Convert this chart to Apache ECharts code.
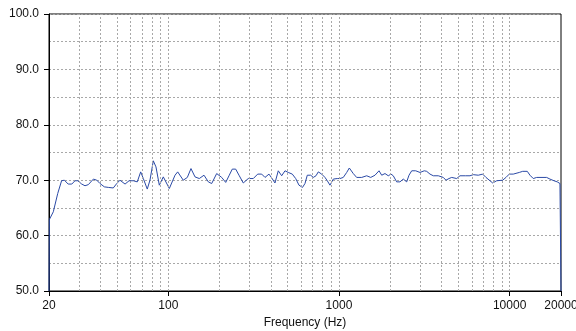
<!DOCTYPE html>
<html>
<head>
<meta charset="utf-8">
<script src="https://cdn.jsdelivr.net/npm/echarts@6/dist/echarts.min.js"></script>
<style>
  html, body { margin: 0; padding: 0; background: #fff; }
  #chart { width: 576px; height: 331px; }
</style>
</head>
<body>
<div id="chart"></div>
<script>
// frequency (Hz) and level (dB)
var freqs = [20, 20.1, 21.2, 22.5, 23.7, 24.6, 25.9, 27.2, 28.4, 29.5, 31.1, 32.5, 34.0, 36.4, 38.1, 39.8,
  42.2, 44.5, 47.6, 49.9, 52.1, 55.8, 58.9, 62.4, 63.8, 65.8, 68.9, 71.4, 75.3, 78.1, 81.7, 84.7, 88.6,
  93.5, 96.0, 101.4, 104.1, 109.5, 113.5, 122.4, 129.3, 135.8, 143.4, 151.9, 161.9, 171.6, 179.6, 192.1,
  205.6, 217.0, 226.8, 237.1, 248.3, 259.6, 275.0, 294.2, 314.8, 334.1, 352.6, 368.7, 389.0, 403.5, 421.8,
  441.0, 461.7, 482.8, 504.8, 532.8, 557.8, 583.2, 611.4, 632.3, 652.3, 682.9, 707.3, 733.5, 756.7, 792.2,
  828.3, 854.4, 886.1, 926.4, 977.7, 1014, 1060, 1110, 1150, 1213, 1270, 1359, 1454, 1535, 1626, 1717,
  1780, 1861, 1945, 2018, 2081, 2179, 2278, 2382, 2494, 2573, 2669, 2816, 2984, 3162, 3266, 3415, 3571,
  3820, 4087, 4238, 4413, 4577, 4896, 5119, 5527, 5857, 6123, 6552, 6952, 7269, 7673, 7958, 8400, 9107,
  9520, 9954, 10505, 11393, 11928, 12688, 13158, 13758, 14403, 16482, 17234, 18190, 19017, 19723, 19900, 20000];
var levels = [50, 62.9, 64.3, 67.6, 69.9, 70.0, 69.3, 69.3, 69.9, 69.9, 69.3, 69.0, 69.2, 70.2, 70.0, 69.4,
  68.8, 68.7, 68.6, 69.4, 70.0, 69.3, 69.9, 69.9, 69.6, 69.7, 71.5, 70.3, 68.4, 70.0, 73.5, 72.4, 69.1,
  70.6, 70.5, 68.5, 68.6, 70.9, 71.5, 70.0, 70.5, 72.1, 70.6, 70.3, 70.9, 69.7, 69.4, 71.2,
  70.5, 69.6, 70.8, 72.0, 72.0, 70.9, 69.5, 70.3, 70.3, 71.1, 71.1, 70.5, 71.1, 70.4, 69.5,
  71.7, 70.8, 71.7, 71.4, 71.1, 70.3, 69.1, 68.7, 69.4, 70.9, 70.9, 70.5, 70.8, 71.5, 71.1,
  70.5, 69.9, 69.1, 70.2, 70.3, 70.3, 70.5, 71.4, 72.2, 71.2, 70.5, 70.5, 70.8, 70.5, 70.9, 71.7,
  70.9, 71.2, 70.8, 71.1, 70.8, 69.7, 69.7, 70.2, 69.7, 70.9, 71.7, 71.7, 71.4, 71.7, 71.6, 71.1, 70.8,
  70.8, 70.5, 70.0, 70.3, 70.5, 70.3, 70.8, 70.8, 70.8, 71.0, 70.9, 71.1, 70.5, 69.9, 69.5, 69.9, 70.0,
  70.5, 71.1, 71.1, 71.4, 71.6, 71.6, 70.9, 70.3, 70.5, 70.5, 70.2, 69.9, 69.7, 69.4, 69.3, 50];

// vertical grid lines (1..9 per decade)
var gridFreqs = [30, 40, 50, 60, 70, 80, 90, 100, 200, 300, 400, 500, 600, 700, 800, 900,
  1000, 2000, 3000, 4000, 5000, 6000, 7000, 8000, 9000, 10000];

var dotted = { color: '#a8a8a8', width: 1, type: [2, 2] };
var labelFont = { color: '#111', fontFamily: 'Liberation Sans', fontSize: 12 };

var myChart = echarts.init(document.getElementById('chart'), null, { renderer: 'canvas' });
myChart.setOption({
  animation: false,
  grid: {
    left: 49, right: 15, top: 14, bottom: 40,
    outerBoundsMode: 'none',
    containLabel: false,
    show: true, borderColor: '#000', borderWidth: 1, backgroundColor: '#fff'
  },
  xAxis: {
    type: 'log',
    logBase: 10,
    min: 20,
    max: 20000,
    name: 'Frequency (Hz)',
    nameLocation: 'middle',
    nameGap: 25,
    nameTextStyle: labelFont,
    axisLine: { lineStyle: { color: '#000', width: 1 } },
    axisTick: { show: true, length: 5, lineStyle: { color: '#000' } },
    axisLabel: Object.assign({ margin: 9, formatter: function (v) { return String(Math.round(v)); } }, labelFont),
    splitLine: { show: false }
  },
  yAxis: {
    type: 'value',
    min: 50,
    max: 100,
    interval: 10,
    axisLine: { show: true, lineStyle: { color: '#000', width: 1 } },
    axisTick: { show: true, length: 5, lineStyle: { color: '#000' } },
    axisLabel: Object.assign({ margin: 10, formatter: function (v) { return v.toFixed(1); } }, labelFont),
    splitLine: { show: true, lineStyle: dotted },
    minorTick: { show: false, splitNumber: 2 },
    minorSplitLine: { show: true, lineStyle: dotted }
  },
  series: [
    {
      type: 'line',
      data: [],
      silent: true,
      z: 1,
      markLine: {
        silent: true,
        symbol: 'none',
        label: { show: false },
        lineStyle: dotted,
        emphasis: { disabled: true },
        animation: false,
        data: gridFreqs.map(function (f) { return { xAxis: f }; })
      }
    },
    {
      name: 'Response',
      type: 'line',
      z: 3,
      showSymbol: false,
      symbol: 'none',
      clip: true,
      lineStyle: { color: '#2b4aa6', width: 1 },
      data: freqs.map(function (f, i) { return [f, levels[i]]; })
    }
  ]
});

window.addEventListener('resize', function () { myChart.resize(); });
</script>
</body>
</html>
